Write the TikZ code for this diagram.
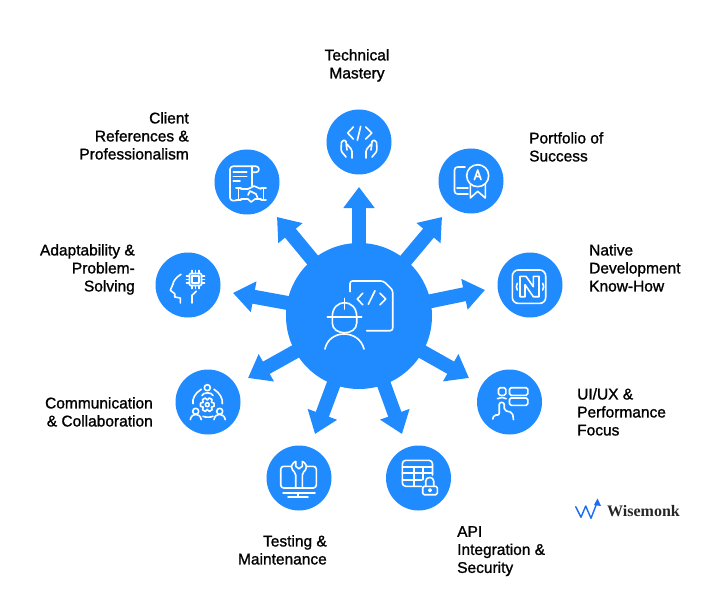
\documentclass[tikz,border=0pt]{standalone}
\usepackage{fontspec}
\setmainfont{Liberation Sans}[FakeBold=1.2]
\newfontfamily\logofont{Liberation Serif}
\usetikzlibrary{arrows.meta}
\definecolor{wiseblue}{HTML}{1F8BFF}
\definecolor{logoblue}{HTML}{1A6CF5}
\tikzset{
  hub/.style={circle,fill=wiseblue,minimum size=146pt,inner sep=0pt},
  badge/.style={circle,fill=wiseblue,minimum size=65pt,inner sep=0pt},
  spoke/.style={line width=14pt,wiseblue,-{Triangle[length=21pt,width=30pt]}},
  icon/.style={draw=white,line width=1.6pt,line cap=round,line join=round},
  lab/.style={font=\fontsize{15.5}{18}\selectfont,text=black,inner sep=0pt},
}
\begin{document}
\begin{tikzpicture}[x=1pt,y=-1pt]
  \useasboundingbox (0,0) rectangle (726,607);
  \node [hub](center) at (359,316) {};
  \foreach \nm/\cx/\cy/\tx/\ty in {top/359/142/359/187,port/471/181/442/217,native/530/285/485/290,
      uiux/509.5/402/469/378,api/418.5/478/402/434,testing/299/478/315/434,
      comm/208/402/248/378,adapt/188/285/233/293,client/247/182/277/217}{
    \node [badge](\nm) at (\cx,\cy) {};
    \coordinate (tip\nm) at (\tx,\ty);
    \draw [spoke](center.center)--(tip\nm);
  }
  % center
  \begin{scope}[shift={(center.center)}]
    \draw [icon,rounded corners=2.5pt] (-9,-24.3)--(-9,-35)--(24.3,-35)--(33.7,-26)--(33.7,14.7)--(7.7,14.7);
    \draw [icon] (3.7,-22.7)--(-1.7,-17)--(3.7,-11.3) (16,-25.3)--(9.3,-11.7) (21,-22.7)--(26.7,-17)--(21,-11.3);
    \draw [icon] (-31.7,0.7)--(2.7,0.7) (-14.7,-17.7)--(-14.7,-7);
    \draw [icon] (-26.7,0.7) .. controls (-26.7,-18) and (-2.3,-18) .. (-2.3,0.7)--(-2.3,7) .. controls (-2.3,20) and (-26.7,20) .. (-26.7,7)--cycle;
    \draw [icon] (-34,33) .. controls (-30,13) and (0,13) .. (5,33);
  \end{scope}
  % top
  \begin{scope}[shift={(top.center)}]
    \draw [icon] (-5.7,-15)--(-11.3,-9)--(-5.7,-3) (1.7,-15.7)--(-1.7,-1.7) (6.7,-15)--(12.7,-9)--(6.7,-3);
    \foreach \s in {1,-1}{
      \begin{scope}[xscale=\s]
        \draw [icon,rounded corners=1.5pt] (-7,16)--(-7,8)--(-13,1)--(-12,8) (-13,1)--(-13,-2)--(-17.5,-1)--(-18,9)--(-13,15);
      \end{scope}
    }
  \end{scope}
  % portfolio
  \begin{scope}[shift={(port.center)}]
    \draw [icon,rounded corners=3pt] (-6,-14)--(-16.5,-14)--(-16.5,13)--(-3,13);
    \draw [icon] (-14,7)--(-3,7);
    \draw [icon] (6.7,-5.3) circle (11);
    \draw [icon] (3.4,-1.3)--(6.7,-11)--(10,-1.3) (4.5,-4.5)--(9,-4.5);
    \draw [icon] (-0.7,3.7)--(-0.7,17)--(6.7,10.3)--(14.3,17)--(14.3,3);
  \end{scope}
  % native
  \begin{scope}[shift={(native.center)}]
    \draw [icon,rounded corners=6pt] (-17.7,-15) rectangle (15.7,18.4);
    \draw [icon] (-10,-8.7)--(-4,-8.7)--(3.3,1.7)--(3.3,-8.7)--(9,-8.7)--(9,11.7)--(3.3,11.7)--(-5,-0.3)--(-5,11.7)--(-10,11.7)--cycle;
    \draw [icon] (-12.7,-1.7)--(-13.7,1.7)--(-12.7,5) (12.7,-1.7)--(13.7,1.7)--(12.7,5);
  \end{scope}
  % uiux
  \begin{scope}[shift={(uiux.center)}]
    \draw [icon,rounded corners=1.5pt] (-11,-14.3) rectangle (-3.7,-6.7);
    \draw [icon,rounded corners=1.5pt] (0,-14.3) rectangle (18.3,-6.7);
    \draw [icon,rounded corners=1.5pt] (0,-4) rectangle (18.3,3.3);
    \draw [icon] (-12,-3.3) .. controls (-9,-5) and (-6,-5) .. (-3.3,-3.3);
    \draw [icon,rounded corners=2pt] (-16.7,17)--(-15.5,12.7)--(-10.3,13.3)--(-10.3,0.5)--(-5.3,0.5)--(-5.3,8.3)--(3,10.7)--(4,17.7);
  \end{scope}
  % api
  \begin{scope}[shift={(api.center)}]
    \draw [icon,rounded corners=3.5pt] (3.2,8.3)--(-16.2,8.3)--(-16.2,-17.7)--(14,-17.7)--(14,-3);
    \draw [icon] (-16.2,-11)--(14,-11) (-16.2,-5)--(14,-5) (-16.2,1.7)--(3.2,1.7) (-4.5,-11)--(-4.5,8.3) (4.2,-11)--(4.2,1.7);
    \draw [icon,rounded corners=1.5pt] (4.2,8.3) rectangle (18.8,16.7);
    \draw [icon] (7.2,8.3)--(7.2,3) .. controls (7.2,-1.7) and (15.2,-1.7) .. (15.2,3)--(15.2,8.3);
    \draw [icon] (11.5,12.2) circle (1.3);
  \end{scope}
  % testing
  \begin{scope}[shift={(testing.center)}]
    \draw [icon,rounded corners=3pt] (-7.7,-11.7)--(-18.3,-11.7)--(-18.3,10)--(17.3,10)--(17.3,-11.7)--(7,-11.7);
    \draw [icon] (-16,15)--(16,15) (-1,15)--(-1,19) (-11,19)--(9,19);
    \foreach \s in {1,-1}{
      \begin{scope}[xscale=\s]
        \draw [icon] (-3.3,-16.5)--(-3.3,-11.7)--(0,-9.3);
        \draw [icon,rounded corners=2pt] (-3.3,-16.5)--(-7,-14.5)--(-7.7,-9)--(-3.3,-5)--(-3.3,10);
      \end{scope}
    }
  \end{scope}
  % communication
  \begin{scope}[shift={(comm.center)}]
    \draw [icon] (-0.7,-14.3) circle (3);
    \draw [icon] (-12.3,9.3) circle (3);
    \draw [icon] (11.7,9.3) circle (3);
    \draw [icon] (-6,-6.5) .. controls (-5,-10) and (4,-10) .. (5,-6.5);
    \draw [icon] (-17.7,17.7) .. controls (-16.5,10.5) and (-8,10.5) .. (-6.7,17.7);
    \draw [icon] (6,17.7) .. controls (7,10.5) and (16,10.5) .. (17.3,17.7);
    \draw [icon] (-6.7,-12.7) .. controls (-13,-9) and (-16,-3) .. (-15,1.7);
    \draw [icon] (6,-12.7) .. controls (12,-9) and (15,-3) .. (14.3,1.7);
    \draw [icon] (-5,14.3) .. controls (-2,15.5) and (2,15.5) .. (5,14.3);
    \begin{scope}[shift={(-0.7,2.7)}]
      \foreach \a in {0,60,...,300}
        \draw [icon] (\a-30:4.8)--(\a-13:7)--(\a+13:7)--(\a+30:4.8);
      \draw [icon] (0,0) circle (2);
    \end{scope}
  \end{scope}
  % adaptability
  \begin{scope}[shift={(adapt.center)}]
    \draw [icon] (-7,-10.7) .. controls (-12,-8) and (-15,-3) .. (-15,-1)--(-17.7,5.3)--(-13.3,8.7)--(-13.3,12)--(-7.7,13)--(-7.7,18);
    \draw [icon] (4,18)--(4,10.3)--(8.3,6.3);
    \draw [icon,rounded corners=1pt] (1.5,-11.5) rectangle (13.5,0.5);
    \draw [icon] (4.2,-8.8) rectangle (10.8,-2.2);
    \foreach \d in {-3.5,0,3.5}{
      \draw [icon] (7.5+\d,-11.5)--(7.5+\d,-14.5) (7.5+\d,0.5)--(7.5+\d,3.5);
      \draw [icon] (1.5,-5.5+\d)--(-1.5,-5.5+\d) (13.5,-5.5+\d)--(16.5,-5.5+\d);
    }
  \end{scope}
  % client
  \begin{scope}[shift={(client.center)}]
    \draw [icon,rounded corners=3pt] (-11,18.7)--(-17,18.7)--(-17,-15.7)--(12,-15.7)--(12,-9.7)--(4.7,-9.7);
    \draw [icon] (4.7,-15.7)--(4.7,3.7);
    \draw [icon] (-13.7,-9.7)--(-0.3,-9.7) (-13.7,-5.3)--(-0.3,-5.3) (-13.7,-0.7)--(-7,-0.7);
    \draw [icon] (-11,6.3)--(-6,6.3) (-8.7,6.3)--(-8.7,18) (-11,18)--(-6,18);
    \draw [icon] (14,6.3)--(19,6.3) (16.3,6.3)--(16.3,18) (14,18)--(19,18);
    \draw [icon] (-6,7)--(1,7)--(7,4)--(14,7) (-6,17)--(1,17)--(4,20)--(8,17)--(14,17) (1,13)--(3,9)--(9,12)--(11,17);
  \end{scope}
  % labels
  \node [lab,align=center,anchor=north](lbtop) at (357,49) {Technical\\Mastery};
  \node [lab,align=right,anchor=north east](lbclient) at (189,112) {Client\\References \&\\Professionalism};
  \node [lab,align=left,anchor=north west](lbport) at (529,132) {Portfolio of\\Success};
  \node [lab,align=left,anchor=north west](lbnative) at (589,244) {Native\\Development\\Know-How};
  \node [lab,align=right,anchor=north east](lbadapt) at (135,244) {Adaptability \&\\Problem-\\Solving};
  \node [lab,align=right,anchor=north east](lbcomm) at (153,397) {Communication\\\& Collaboration};
  \node [lab,align=left,anchor=north west](lbuiux) at (577,388) {UI/UX \&\\Performance\\Focus};
  \node [lab,align=right,anchor=north east](lbtesting) at (327,535) {Testing \&\\Maintenance};
  \node [lab,align=left,anchor=north west](lbapi) at (457,526) {API\\Integration \&\\Security};
  % logo
  \draw [logoblue,line width=1.4pt,line join=round,line cap=round] (575.7,506.7)--(581,517.3)--(585.7,506)--(591,518.3)--(596.5,504);
  \fill [logoblue] (597.5,498.5)--(601,506)--(594,505)--cycle;
  \node [font=\logofont\fontsize{16}{16}\selectfont\bfseries,text=black!85,inner sep=0pt,anchor=west](logo) at (607,511) {Wisemonk};
\end{tikzpicture}
\end{document}
